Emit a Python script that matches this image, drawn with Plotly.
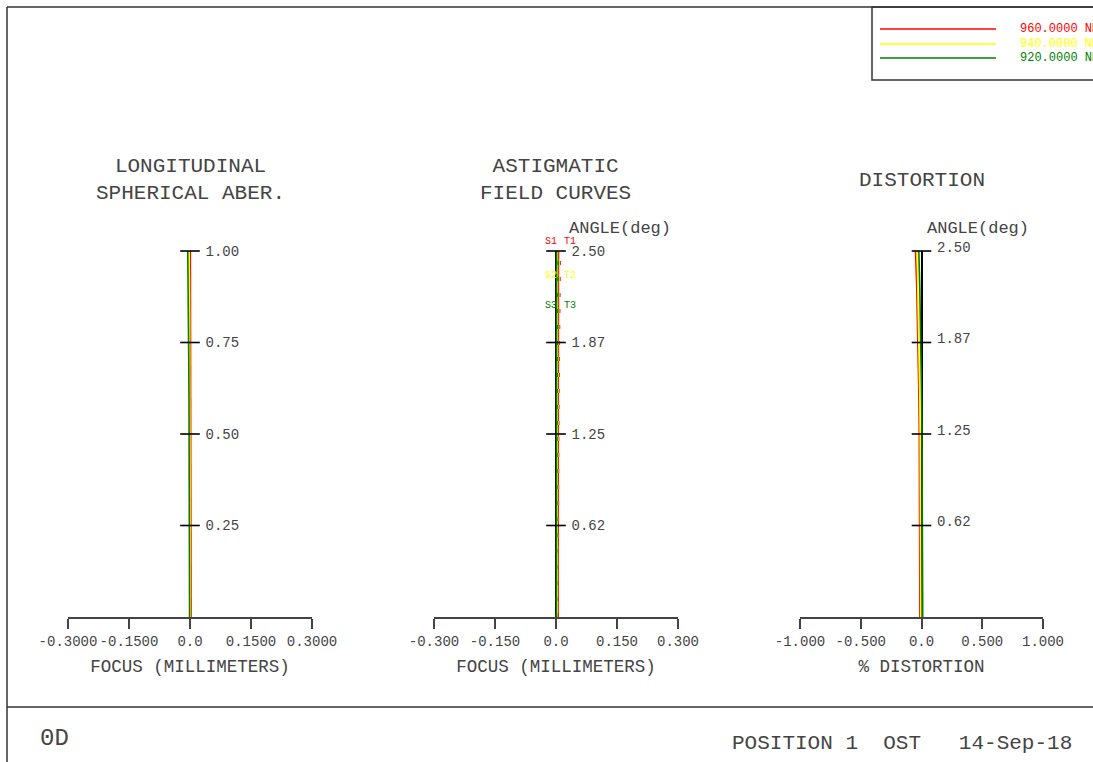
import plotly.graph_objects as go

W, H = 1093, 762
FONT = "Liberation Mono"

# ---- data ---------------------------------------------------------------
wavelengths = ["960.0000 NM", "940.0000 NM", "920.0000 NM"]
wave_colors = ["#ff0000", "#ffff00", "#008000"]

# longitudinal spherical aberration: relative pupil height vs focus shift (mm)
pupil = [0.0, 0.1, 0.2, 0.3, 0.4, 0.5, 0.6, 0.7, 0.8, 0.9, 1.0]
lsa_960 = [0.0025, 0.0025, 0.0025, 0.0024, 0.0023, 0.0022, 0.0020, 0.0018, 0.0015, 0.0012, 0.0008]
lsa_940 = [0.0007, 0.0007, 0.0006, 0.0005, 0.0003, 0.0001, -0.0002, -0.0005, -0.0009, -0.0014, -0.0020]
lsa_920 = [-0.0010, -0.0010, -0.0011, -0.0013, -0.0016, -0.0020, -0.0025, -0.0031, -0.0038, -0.0046, -0.0055]

# astigmatic field curves: field angle (deg) vs sagittal / tangential focus (mm)
field = [0.0, 0.25, 0.5, 0.75, 1.0, 1.25, 1.5, 1.75, 2.0, 2.25, 2.5]
sag_960 = [0.0050, 0.0050, 0.0050, 0.0050, 0.0051, 0.0052, 0.0053, 0.0054, 0.0055, 0.0057, 0.0060]
tan_960 = [0.0050, 0.0050, 0.0052, 0.0055, 0.0060, 0.0065, 0.0070, 0.0077, 0.0085, 0.0093, 0.0102]
sag_940 = [0.0030, 0.0030, 0.0030, 0.0030, 0.0030, 0.0031, 0.0031, 0.0032, 0.0033, 0.0034, 0.0035]
tan_940 = [0.0030, 0.0030, 0.0032, 0.0035, 0.0039, 0.0044, 0.0050, 0.0056, 0.0063, 0.0070, 0.0078]
sag_920 = [0.0010, 0.0010, 0.0010, 0.0010, 0.0010, 0.0011, 0.0011, 0.0012, 0.0012, 0.0013, 0.0014]
tan_920 = [0.0010, 0.0010, 0.0012, 0.0015, 0.0019, 0.0024, 0.0030, 0.0036, 0.0043, 0.0050, 0.0058]

# distortion: field angle (deg) vs % distortion
dist_960 = [-0.013, -0.013, -0.014, -0.015, -0.016, -0.018, -0.021, -0.025, -0.031, -0.039, -0.049]
dist_940 = [-0.006, -0.006, -0.007, -0.008, -0.009, -0.011, -0.014, -0.018, -0.023, -0.029, -0.036]
dist_920 = [0.010, 0.010, 0.009, 0.008, 0.006, 0.004, 0.001, -0.003, -0.008, -0.014, -0.022]

# axis ticks
lsa_xticks = [-0.3, -0.15, 0.0, 0.15, 0.3]
lsa_xlabels = ["-0.3000", "-0.1500", "0.0", "0.1500", "0.3000"]
lsa_yticks = [0.25, 0.5, 0.75, 1.0]
lsa_ylabels = ["0.25", "0.50", "0.75", "1.00"]

afc_xticks = [-0.3, -0.15, 0.0, 0.15, 0.3]
afc_xlabels = ["-0.300", "-0.150", "0.0", "0.150", "0.300"]
ang_yticks = [0.625, 1.25, 1.875, 2.5]
ang_ylabels = ["0.62", "1.25", "1.87", "2.50"]

dist_xticks = [-1.0, -0.5, 0.0, 0.5, 1.0]
dist_xlabels = ["-1.000", "-0.500", "0.0", "0.500", "1.000"]

st_labels = [("S1", "T1"), ("S2", "T2"), ("S3", "T3")]


def px(x):
    return x / W


def py(y):
    return 1 - y / H


fig = go.Figure()

LINE_W = 1.6

# panel 1: longitudinal spherical aberration
for vals, col in zip([lsa_960, lsa_940, lsa_920], wave_colors):
    fig.add_trace(go.Scatter(x=vals, y=pupil, mode="lines", xaxis="x", yaxis="y",
                             line=dict(color=col, width=LINE_W), cliponaxis=False,
                             showlegend=False, hoverinfo="skip"))

# panel 2: astigmatic field curves (solid = sagittal, dashed = tangential)
for s, t, col in zip([sag_960, sag_940, sag_920], [tan_960, tan_940, tan_920], wave_colors):
    fig.add_trace(go.Scatter(x=s, y=field, mode="lines", xaxis="x2", yaxis="y2",
                             line=dict(color=col, width=LINE_W), cliponaxis=False,
                             showlegend=False, hoverinfo="skip"))
    fig.add_trace(go.Scatter(x=t, y=field, mode="lines", xaxis="x2", yaxis="y2",
                             line=dict(color=col, width=LINE_W, dash="4px,12px"),
                             cliponaxis=False, showlegend=False, hoverinfo="skip"))

# panel 3: distortion
for vals, col in zip([dist_960, dist_940, dist_920], wave_colors):
    fig.add_trace(go.Scatter(x=vals, y=field, mode="lines", xaxis="x3", yaxis="y3",
                             line=dict(color=col, width=LINE_W), cliponaxis=False,
                             showlegend=False, hoverinfo="skip"))

# cross ticks on the vertical axes
for xa, ya, ticks in [("x", "y", lsa_yticks), ("x2", "y2", ang_yticks), ("x3", "y3", ang_yticks)]:
    fig.add_trace(go.Scatter(x=[0.0] * len(ticks), y=ticks, mode="markers", xaxis=xa, yaxis=ya,
                             marker=dict(symbol="line-ew", size=14,
                                         line=dict(color="#000000", width=1.6)),
                             cliponaxis=False, showlegend=False, hoverinfo="skip"))

panels = [
    dict(x0=68, x1=312, rng=[-0.3, 0.3], xt=lsa_xticks, xl=lsa_xlabels,
         yr=[0, 1.0], yt=lsa_yticks, yl=lsa_ylabels, title="FOCUS (MILLIMETERS)", shift=0),
    dict(x0=434, x1=678, rng=[-0.3, 0.3], xt=afc_xticks, xl=afc_xlabels,
         yr=[0, 2.5], yt=ang_yticks, yl=ang_ylabels, title="FOCUS (MILLIMETERS)", shift=0),
    dict(x0=800, x1=1043, rng=[-1.0, 1.0], xt=dist_xticks, xl=dist_xlabels,
         yr=[0, 2.5], yt=ang_yticks, yl=ang_ylabels, title="% DISTORTION", shift=-4),
]

Y_TOP, Y_BOT = 251, 617
AX_COLOR = "#444444"
TXT = "#444444"
layout = {}
for i, p in enumerate(panels, start=1):
    sfx = "" if i == 1 else str(i)
    dom = [px(p["x0"]), px(p["x1"])]
    layout["xaxis" + sfx] = dict(
        domain=dom, range=p["rng"], anchor="y" + sfx, automargin=False,
        showline=True, linecolor=AX_COLOR, linewidth=1.5,
        ticks="outside", ticklen=10, tickwidth=1.5, tickcolor=AX_COLOR, tickangle=0,
        tickvals=p["xt"], ticktext=p["xl"], showgrid=False, zeroline=False,
        tickfont=dict(family=FONT, size=14, color=TXT),
        title=dict(text=p["title"], standoff=11,
                   font=dict(family=FONT, size=17.5, color=TXT)),
        fixedrange=True,
    )
    layout["yaxis" + sfx] = dict(
        domain=[py(Y_BOT), py(Y_TOP)], range=p["yr"], anchor="free", automargin=False,
        position=(dom[0] + dom[1]) / 2, side="right", layer="below traces",
        showline=True, linecolor="#000000", linewidth=1.5,
        ticks="", tickvals=p["yt"], ticktext=p["yl"], showgrid=False, zeroline=False,
        ticklabelstandoff=12, ticklabelshift=p["shift"],
        tickfont=dict(family=FONT, size=14, color=TXT),
        fixedrange=True,
    )

ann = []
ann.append(dict(text="LONGITUDINAL<br>SPHERICAL ABER.", x=px(190), y=py(180),
                font=dict(family=FONT, size=21, color=TXT)))
ann.append(dict(text="ASTIGMATIC<br>FIELD CURVES", x=px(556), y=py(180),
                font=dict(family=FONT, size=21, color=TXT)))
ann.append(dict(text="DISTORTION", x=px(922), y=py(180),
                font=dict(family=FONT, size=21, color=TXT)))
ann.append(dict(text="ANGLE(deg)", x=px(620), y=py(228),
                font=dict(family=FONT, size=17, color=TXT)))
ann.append(dict(text="ANGLE(deg)", x=px(978), y=py(228),
                font=dict(family=FONT, size=17, color=TXT)))

# S/T labels for the field curves
for (s, t), col, yy in zip(st_labels, wave_colors, [242, 275, 306]):
    ann.append(dict(text=s, x=px(551), y=py(yy), font=dict(family=FONT, size=10, color=col)))
    ann.append(dict(text=t, x=px(570), y=py(yy), font=dict(family=FONT, size=10, color=col)))

# legend text
for name, col, yy in zip(wavelengths, wave_colors, [29, 44, 58]):
    ann.append(dict(text=name, x=px(1018), y=py(yy), xanchor="left",
                    font=dict(family=FONT, size=12, color=col)))

ann.append(dict(text="0D", x=px(38), y=py(738), xanchor="left",
                font=dict(family=FONT, size=24, color=TXT)))
ann.append(dict(text="POSITION 1  OST   14-Sep-18", x=px(1074), y=py(743), xanchor="right",
                font=dict(family=FONT, size=21, color=TXT)))

for a in ann:
    a.update(xref="paper", yref="paper", showarrow=False)
    a.setdefault("xanchor", "center")
    a.setdefault("yanchor", "middle")

shapes = []
FR = dict(color="#333333", width=1.5)
shapes.append(dict(type="line", x0=px(7), x1=px(7), y0=py(7), y1=py(762), line=FR))
shapes.append(dict(type="line", x0=px(7), x1=px(1093), y0=py(7), y1=py(7), line=FR))
shapes.append(dict(type="line", x0=px(7), x1=px(1093), y0=py(707), y1=py(707), line=FR))
# legend box and sample lines
shapes.append(dict(type="rect", x0=px(872), x1=px(1100), y0=py(80), y1=py(7), line=FR))
for col, yy in zip(wave_colors, [29, 44, 58]):
    shapes.append(dict(type="line", x0=px(880), x1=px(996), y0=py(yy), y1=py(yy),
                       line=dict(color=col, width=1.3)))
for s in shapes:
    s.update(xref="paper", yref="paper")

fig.update_layout(
    width=W, height=H, autosize=False,
    margin=dict(l=0, r=0, t=0, b=0, autoexpand=False),
    paper_bgcolor="#ffffff", plot_bgcolor="rgba(0,0,0,0)",
    annotations=ann, shapes=shapes, showlegend=False,
    **layout,
)

fig.write_html("out.html")
